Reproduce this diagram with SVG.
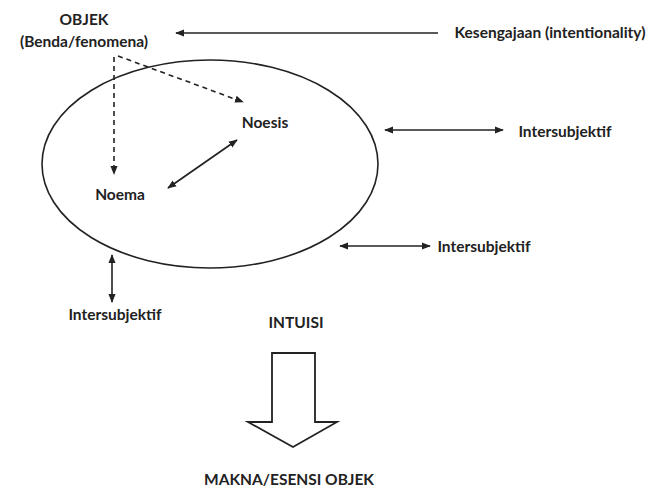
<svg xmlns="http://www.w3.org/2000/svg" width="652" height="496" viewBox="0 0 652 496">
<style>
text{font-family:Lato,"Open Sans","Liberation Sans",sans-serif;font-weight:bold;fill:#222;font-size:15.5px}
.ln{stroke:#222;stroke-width:1.6;fill:none}
.ds{stroke:#222;stroke-width:1.6;fill:none;stroke-dasharray:5 4}
</style>
<defs>
<marker id="ah" viewBox="0 0 10 10" refX="9" refY="5" markerWidth="9" markerHeight="9" markerUnits="userSpaceOnUse" orient="auto-start-reverse">
<path d="M0,1 L10,5 L0,9 z" fill="#222"/>
</marker>
</defs>
<rect width="652" height="496" fill="#fff"/>
<g id="ellipse"><ellipse cx="210" cy="164" rx="168" ry="104" class="ln" stroke-width="1.8"/></g>
<g id="objek"><text x="84" y="25" text-anchor="middle">OBJEK</text><text x="84" y="47" text-anchor="middle">(Benda/fenomena)</text></g>
<g id="kesengajaan"><text x="550" y="38" text-anchor="middle">Kesengajaan (intentionality)</text></g>
<g id="noesis"><text x="265" y="128" text-anchor="middle">Noesis</text></g>
<g id="noema"><text x="120" y="200" text-anchor="middle">Noema</text></g>
<g id="inter1"><text x="565" y="137" text-anchor="middle">Intersubjektif</text></g>
<g id="inter2"><text x="484" y="252" text-anchor="middle">Intersubjektif</text></g>
<g id="inter3"><text x="115" y="320" text-anchor="middle">Intersubjektif</text></g>
<g id="intuisi"><text x="296" y="328" text-anchor="middle">INTUISI</text></g>
<g id="makna"><text x="289" y="485" text-anchor="middle">MAKNA/ESENSI OBJEK</text></g>
<g id="blockarrow"><path d="M272,353 L315,353 L315,422 L337,422 L293,447 L248,422 L272,422 Z" fill="#fff" stroke="#222" stroke-width="1.8" stroke-linejoin="miter"/></g>
<g id="connectors">
<line x1="438" y1="33" x2="176" y2="33" class="ln" marker-end="url(#ah)"/>
<line x1="114" y1="57" x2="114" y2="174" class="ds" marker-end="url(#ah)"/>
<line x1="118" y1="56" x2="243" y2="102" class="ds" marker-end="url(#ah)"/>
<line x1="237" y1="140" x2="168" y2="188" class="ln" marker-start="url(#ah)" marker-end="url(#ah)"/>
<line x1="385" y1="130" x2="503" y2="130" class="ln" marker-start="url(#ah)" marker-end="url(#ah)"/>
<line x1="340" y1="246" x2="430" y2="246" class="ln" marker-start="url(#ah)" marker-end="url(#ah)"/>
<line x1="112" y1="255" x2="112" y2="302" class="ln" marker-start="url(#ah)" marker-end="url(#ah)"/>
</g>
</svg>
